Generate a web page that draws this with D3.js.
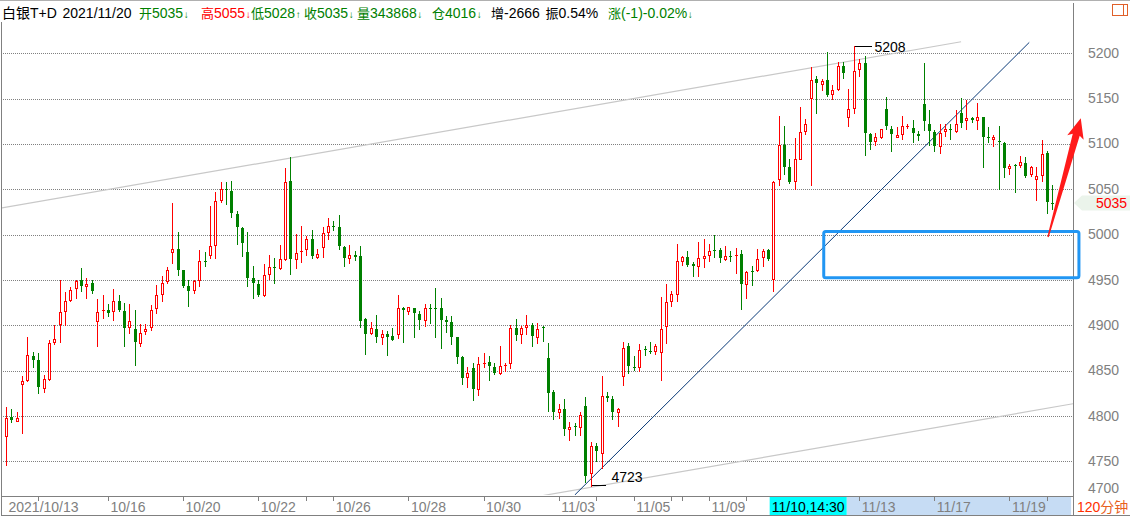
<!DOCTYPE html>
<html><head><meta charset="utf-8">
<script src="https://cdn.jsdelivr.net/npm/d3@7"></script>
<style>
html,body{margin:0;padding:0;background:#fff;overflow:hidden;}
svg{display:block;font-family:"Liberation Sans",Arial,"Noto Sans CJK SC",sans-serif;}
</style></head><body>
<svg id="chart" width="1130" height="517"></svg>
<script>
// ---------------- DATA ----------------
const opens = [4778,4799,4795,4835,4840,4866,4862,4831,4841,4882,
4902,4916,4928,4941,4950,4943,4947,4905,4916,4917,
4916,4927,4916,4898,4896,4881,4894,4898,4919,4935,
4949,4981,4984,4961,4943,4939,4950,4971,4978,4989,
5038,5050,5048,5023,5007,4981,4952,4946,4934,4957,
4964,4963,4973,5059,4973,4981,4984,4995,4975,4986,
5003,5010,5009,4986,4974,4978,4977,4907,4892,4896,
4887,4891,4888,4891,4919,4916,4919,4913,4906,4919,
4919,4919,4906,4904,4887,4865,4843,4853,4830,4858,
4860,4854,4848,4855,4858,4897,4891,4898,4900,4887,
4898,4864,4827,4804,4808,4786,4789,4788,4811,4737,
4767,4759,4822,4819,4804,4844,4877,4854,4854,4874,
4872,4872,4871,4899,4927,4935,4971,4975,4968,4965,
4974,4978,4983,4983,4973,4977,4977,4979,4946,4960,
4961,4975,4983,4951,5061,5099,5075,5059,5084,5114,
5151,5172,5166,5171,5155,5161,5186,5130,5140,5183,
5189,5111,5103,5108,5139,5117,5108,5111,5119,5118,
5111,5144,5122,5113,5098,5114,5116,5114,5134,5126,
5129,5127,5130,5108,5105,5103,5101,5073,5077,5077,
5079,5067,5061,5066,5090,5035];
const highs = [4810,4808,4805,4844,4887,4871,4870,4845,4884,4900,
4950,4937,4942,4950,4963,4952,4950,4929,4933,4924,
4940,4933,4925,4924,4917,4901,4901,4923,4945,4955,
4964,5035,5003,4961,4950,4950,4983,4981,5032,5047,
5058,5058,5059,5026,5009,5003,4965,4950,4968,4978,
4974,4989,5073,5086,5001,5010,4999,5005,4984,5009,
5018,5015,5022,4988,4989,4982,4988,4908,4904,4912,
4895,4894,4897,4933,4920,4920,4919,4916,4924,4924,
4941,4930,4910,4910,4887,4866,4854,4858,4865,4870,
4866,4858,4877,4858,4900,4907,4899,4912,4903,4903,
4899,4881,4829,4813,4819,4793,4792,4804,4821,4771,
4770,4844,4827,4822,4809,4882,4881,4866,4880,4877,
4882,4879,4931,4946,4938,4990,4977,4982,4970,4992,
4995,4990,5000,4985,4987,4982,4985,4983,4960,4966,
4984,4984,4984,5059,5131,5120,5084,5107,5141,5128,
5185,5175,5172,5201,5165,5190,5190,5161,5208,5194,
5197,5112,5112,5117,5152,5120,5119,5131,5122,5126,
5114,5189,5137,5115,5122,5122,5122,5137,5151,5148,
5130,5145,5130,5119,5110,5120,5102,5078,5078,5087,
5086,5076,5075,5104,5092,5055];
const lows = [4746,4794,4795,4781,4839,4854,4826,4827,4840,4879,
4882,4900,4927,4930,4938,4930,4936,4877,4908,4910,
4906,4916,4877,4892,4856,4877,4891,4895,4914,4927,
4947,4969,4956,4942,4921,4936,4943,4965,4974,4974,
5036,5034,5019,4990,4976,4943,4930,4932,4932,4951,
4947,4962,4972,4957,4963,4970,4978,4974,4974,4975,
4995,5005,4984,4966,4969,4972,4898,4869,4890,4882,
4879,4867,4884,4886,4882,4913,4887,4896,4899,4903,
4887,4875,4893,4880,4858,4835,4832,4818,4823,4854,
4840,4846,4846,4850,4853,4884,4881,4890,4877,4881,
4883,4806,4797,4798,4779,4774,4779,4779,4727,4723,
4751,4743,4817,4797,4789,4834,4848,4851,4850,4867,
4870,4868,4840,4881,4921,4927,4967,4966,4955,4955,
4964,4971,4975,4970,4972,4971,4958,4918,4930,4945,
4960,4966,4972,4938,5055,5067,5057,5050,5083,5111,
5055,5134,5160,5153,5150,5160,5173,5120,5134,5175,
5088,5095,5099,5107,5116,5092,5108,5106,5118,5102,
5104,5115,5099,5092,5090,5109,5106,5113,5119,5117,
5124,5117,5075,5102,5098,5050,5064,5067,5047,5075,
5064,5065,5038,5059,5024,5028];
const closes = [4798,4796,4798,4839,4867,4862,4832,4841,4881,4885,
4915,4927,4939,4949,4943,4946,4938,4915,4917,4914,
4927,4917,4897,4905,4882,4892,4896,4917,4934,4947,
4961,4984,4961,4943,4938,4949,4971,4970,4988,5037,
5050,5049,5024,5008,4991,4952,4947,4933,4956,4964,
4963,4973,5058,4973,4980,4982,4995,4976,4979,5002,
5010,5009,4987,4974,4978,4975,4905,4891,4897,4887,
4891,4887,4884,4919,4917,4920,4914,4906,4919,4918,
4918,4906,4904,4887,4865,4842,4847,4830,4857,4859,
4855,4847,4855,4856,4897,4889,4897,4900,4888,4896,
4897,4825,4804,4808,4786,4788,4788,4801,4734,4767,
4761,4822,4820,4805,4808,4875,4855,4853,4873,4873,
4871,4877,4896,4926,4935,4971,4975,4967,4965,4974,
4976,4982,4982,4974,4976,4976,4978,4946,4959,4959,
4973,4982,4973,5058,5099,5075,5058,5083,5113,5122,
5171,5167,5170,5154,5160,5186,5178,5139,5180,5189,
5112,5102,5108,5116,5120,5111,5110,5120,5120,5112,
5109,5125,5114,5098,5112,5116,5115,5122,5123,5129,
5127,5130,5108,5107,5108,5102,5073,5076,5076,5080,
5065,5075,5065,5089,5036,5035];

const priceTicks = [5200,5150,5100,5050,5000,4950,4900,4850,4800,4750,4700];
const dateTickIdx = [0,19,33,47,61,75,89,103,117,131,159,173,187];
const dateTickLabels = ["2021/10/13","10/16","10/20","10/22","10/26","10/28","10/30","11/03","11/05","11/09","11/13","11/17","11/19"];
const minorTickIdx = [6,56,110,124,126,138,194];
const cursorIdx = 149.5;
const cursorLabel = "11/10,14:30";
const periodLabel = ["120","分钟"];
const lastPrice = 5035;

const headerLead = ["白银T+D","","开","高","低","收","量","仓","增","振","涨"];
const headerTexts = ["","2021/11/20","5035","5055","5028","5035","343868","4016","-2666","0.54%","(-1)-0.02%"];
const headerArrows = ["","","↓","↓","↑","↓","↓","↓","","","↓"];
const headerKinds = ["k","k","g","r","g","g","g","g","k","k","g"];

// annotation anchors: [bar index, price]
const upperChannel = [[-0.75,5029.5],[178,5212.7]];
const lowerChannel = [[100,4712.3],[198.85,4813.6]];
const trendLine = [[106.0,4713],[190.7,5212]];
const boxZone = [[152.4,5003.5],[199.96,4952.6]];
const arrowAnn = [[194.2,4997.5],[200.3,5128.3]];
const peakMark = [158,5208];
const troughMark = [109,4723];

// ---------------- CHART ----------------
const W = 1130, H = 517;
const plotL = 2, plotR = 1073, plotT = 22, plotB = 495;
const GREEN = "#008000", RED = "#ff0000", GRAY = "#808080";
const SLOTS = 199;

const svg = d3.select("#chart");
svg.append("rect").attr("width",W).attr("height",H).attr("fill","#fff");

const x = d3.scaleBand().domain(d3.range(SLOTS)).range([3.3, 1071.1]);
const cx = i => x(i) + x.bandwidth()/2;
const xl = d3.scaleLinear().domain([0, SLOTS-1]).range([cx(0), cx(SLOTS-1)]);
const y = d3.scaleLinear().domain([4700, 5200]).range([506.8, 53.3]);

svg.append("defs").append("clipPath").attr("id","pc")
  .append("rect").attr("x",plotL).attr("y",plotT).attr("width",plotR-plotL).attr("height",plotB-plotT);

// borders
svg.append("line").attr("x1",0).attr("x2",W).attr("y1",0.5).attr("y2",0.5).attr("stroke","#b0b0b0");
svg.append("line").attr("x1",1.5).attr("x2",1.5).attr("y1",22).attr("y2",516).attr("stroke",GRAY);
svg.append("line").attr("x1",plotR+0.5).attr("x2",plotR+0.5).attr("y1",3).attr("y2",516).attr("stroke",GRAY);

// gridlines
svg.append("g").selectAll("line").data(priceTicks.filter(v => y(v) < plotB)).join("line")
  .attr("x1",plotL+1).attr("x2",plotR)
  .attr("y1",d => Math.round(y(d))+0.5).attr("y2",d => Math.round(y(d))+0.5)
  .attr("stroke",GRAY).attr("stroke-dasharray","1,1").attr("shape-rendering","crispEdges");

const plot = svg.append("g").attr("clip-path","url(#pc)");

// channel lines & trend line
const lineGen = d3.line().x(d => xl(d[0])).y(d => y(d[1]));
plot.append("path").attr("d",lineGen(upperChannel)).attr("stroke","#c8c8c8").attr("fill","none").attr("stroke-width",1.2);
plot.append("path").attr("d",lineGen(lowerChannel)).attr("stroke","#c8c8c8").attr("fill","none").attr("stroke-width",1.2);
plot.append("path").attr("d",lineGen(trendLine)).attr("stroke","#0a3a78").attr("fill","none").attr("stroke-width",1);

// candles
const data = opens.map((o,i) => ({i, o, h:highs[i], l:lows[i], c:closes[i]}));
const cg = plot.append("g").attr("shape-rendering","crispEdges");
const cand = cg.selectAll("g").data(data).join("g");
cand.each(function(d){
  const g = d3.select(this);
  const up = d.c > d.o;
  const col = up ? RED : GREEN;
  const px = Math.round(cx(d.i));
  g.append("line").attr("x1",px+0.5).attr("x2",px+0.5)
    .attr("y1",Math.round(y(d.h))).attr("y2",Math.round(y(d.l))+1)
    .attr("stroke",col).attr("stroke-width",1);
  const yo = Math.round(y(d.o)), yc = Math.round(y(d.c));
  const top = Math.min(yo,yc), bot = Math.max(yo,yc);
  if (up && bot - top >= 2) {
    g.append("rect").attr("x",px-1+0.5).attr("y",top+0.5).attr("width",2).attr("height",bot-top)
      .attr("fill","#fff").attr("stroke",col).attr("stroke-width",1);
  } else {
    g.append("rect").attr("x",px-1).attr("y",top).attr("width",3).attr("height",Math.max(1,bot-top))
      .attr("fill",col);
  }
});

// blue zone box
svg.append("rect")
  .attr("x",xl(boxZone[0][0])).attr("y",y(boxZone[0][1]))
  .attr("width",xl(boxZone[1][0])-xl(boxZone[0][0]))
  .attr("height",y(boxZone[1][1])-y(boxZone[0][1]))
  .attr("rx",2).attr("fill","none").attr("stroke","#2196f3").attr("stroke-width",3);

// red arrow
(function(){
  const t = [xl(arrowAnn[0][0]), y(arrowAnn[0][1])];
  const p = [xl(arrowAnn[1][0]), y(arrowAnn[1][1])];
  const dx = p[0]-t[0], dy = p[1]-t[1], L = Math.hypot(dx,dy);
  const ux = dx/L, uy = dy/L, nx = -uy, ny = ux;
  const headLen = 17, headW = 8.5, shaftW = 3.6, tailW = 0.7;
  const base = [p[0]-ux*headLen, p[1]-uy*headLen];
  const barb = [p[0]-ux*(headLen+3), p[1]-uy*(headLen+3)];
  const P = (q,k) => [q[0]+nx*k, q[1]+ny*k];
  const pts = [P(t,tailW), P(base,shaftW), P(barb,headW), p, P(barb,-headW), P(base,-shaftW), P(t,-tailW)];
  svg.append("polygon").attr("points",pts.map(q=>q.join(",")).join(" ")).attr("fill","#ff1a1a");
})();

// peak / trough markers
(function(){
  const px = Math.round(cx(peakMark[0]))+0.5, py = Math.round(y(peakMark[1]))+0.5;
  svg.append("line").attr("x1",px).attr("x2",px+17).attr("y1",py).attr("y2",py).attr("stroke","#000").attr("shape-rendering","crispEdges");
  svg.append("text").attr("x",px+20).attr("y",py+5.5).attr("font-size",14).attr("fill","#000").text(peakMark[1]);
  const tx = Math.round(cx(troughMark[0]))+0.5, ty = Math.round(y(troughMark[1]))-0.5;
  svg.append("line").attr("x1",tx).attr("x2",tx+14).attr("y1",ty).attr("y2",ty).attr("stroke","#000").attr("shape-rendering","crispEdges");
  svg.append("text").attr("x",tx+20).attr("y",ty-3.5).attr("font-size",14).attr("fill","#000").text(troughMark[1]);
})();

// right axis
const ra = svg.append("g").attr("transform",`translate(${plotR},0)`)
  .call(d3.axisRight(y).tickValues(priceTicks).tickSize(0).tickPadding(15).tickFormat(d3.format("d")));
ra.select(".domain").remove();
ra.selectAll("text").attr("font-size",14).attr("fill",GRAY)
  .attr("font-family",'"Liberation Sans",Arial,sans-serif').attr("dy","0.32em");
ra.selectAll(".tick").attr("transform",d => `translate(0,${Math.min(y(d),489)})`);

// last price marker
(function(){
  const ly = y(lastPrice);
  const pts = [[1074,ly],[1082,ly-7.5],[1130,ly-7.5],[1130,ly+7.5],[1082,ly+7.5]];
  svg.append("polygon").attr("points",pts.map(q=>q.join(",")).join(" ")).attr("fill","#ebf4eb");
  svg.append("text").attr("x",1096).attr("y",ly+5).attr("font-size",14).attr("fill",RED).text(lastPrice);
})();

// bottom strip
const stripT = 496.5, stripB = 515.5;
svg.append("rect").attr("x",xl(cursorIdx)+38.5).attr("y",stripT).attr("width",x.range()[1]-(xl(cursorIdx)+38.5)).attr("height",stripB-stripT).attr("fill","#c6dcf4");
svg.append("line").attr("x1",1.5).attr("x2",plotR+0.5).attr("y1",stripT).attr("y2",stripT).attr("stroke",GRAY);
svg.append("line").attr("x1",1.5).attr("x2",W).attr("y1",stripB).attr("y2",stripB).attr("stroke",GRAY);

const xa = svg.append("g").attr("transform",`translate(0,${stripT})`)
  .call(d3.axisBottom(xl).tickValues(dateTickIdx).tickSizeInner(4).tickSizeOuter(0)
    .tickFormat((d,k) => dateTickLabels[k]));
xa.select(".domain").remove();
xa.selectAll(".tick line").attr("stroke",GRAY).attr("shape-rendering","crispEdges")
  .attr("opacity",d => d === 0 ? 0 : 1);
xa.selectAll("text").attr("text-anchor","start").attr("x",2).attr("y",15.2).attr("dy",null)
  .attr("font-size",14).attr("fill",GRAY).attr("font-family",'"Liberation Sans",Arial,sans-serif');

svg.append("g").selectAll("line").data(minorTickIdx).join("line")
  .attr("x1",d => Math.round(xl(d))+0.5).attr("x2",d => Math.round(xl(d))+0.5)
  .attr("y1",stripT).attr("y2",stripT+4).attr("stroke",GRAY).attr("shape-rendering","crispEdges");

// cursor box
(function(){
  const c = xl(cursorIdx);
  svg.append("rect").attr("x",c-38.5).attr("y",stripT+0.5).attr("width",77).attr("height",stripB-stripT-1).attr("fill","#00ffff");
  svg.append("text").attr("x",c).attr("y",511.7).attr("text-anchor","middle").attr("font-size",14).attr("fill","#000").text(cursorLabel);
})();

// period label
const pt = svg.append("text").attr("x",1077).attr("y",512).attr("font-size",14);
pt.append("tspan").attr("fill","#ff3000").text(periodLabel[0]);
pt.append("tspan").attr("fill","#e8601c").text(periodLabel[1]);

// icon top right
svg.append("rect").attr("x",1112.5).attr("y",4.5).attr("width",15).attr("height",11).attr("fill","none").attr("stroke","#e0602a");
svg.append("line").attr("x1",1123.5).attr("x2",1123.5).attr("y1",4.5).attr("y2",15.5).attr("stroke","#e0602a");

// header
const headerX = [2,62.5,139,201,251,304,357,432,491,545.5,608];
const kindColor = {k:"#000", g:GREEN, r:RED};
const hg = svg.append("g");
headerTexts.forEach((t,k) => {
  const tx = hg.append("text").attr("x",headerX[k]).attr("y",17.5).attr("font-size",14).attr("fill",kindColor[headerKinds[k]]);
  if (headerLead[k]) tx.append("tspan").attr("font-size", k === 0 ? 14 : 13).text(headerLead[k]);
  if (t) tx.append("tspan").text(t);
  if (headerArrows[k]) tx.append("tspan").attr("font-size",10).attr("dx",0.5).text(headerArrows[k]);
});
</script>
</body></html>
